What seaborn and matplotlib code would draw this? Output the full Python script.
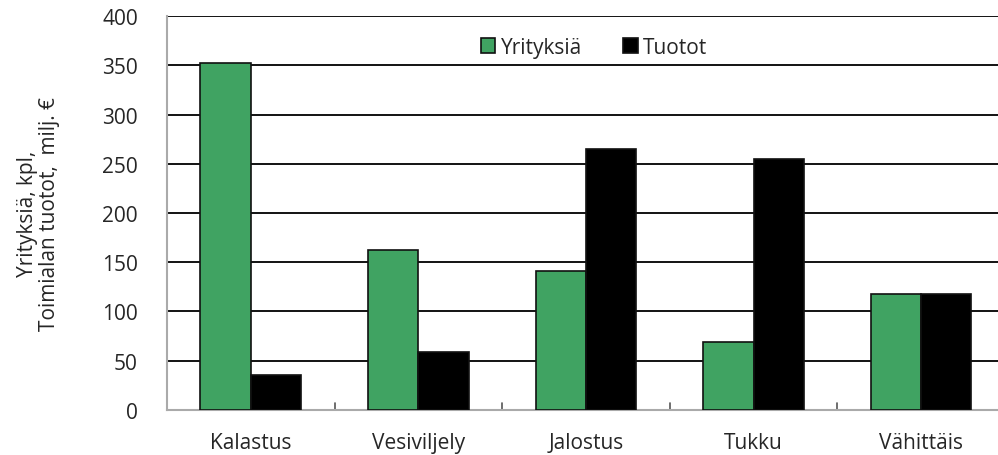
import pandas as pd
import matplotlib.pyplot as plt
import seaborn as sns

# Datos
toimialat = ['Kalastus', 'Vesiviljely', 'Jalostus', 'Tukku', 'Vähittäis']
yrityksia = [352, 162, 141, 69, 118]
tuotot = [36, 59, 265, 255, 118]

df = pd.DataFrame({
    'toimiala': toimialat * 2,
    'arvo': yrityksia + tuotot,
    'sarja': ['Yrityksiä'] * len(toimialat) + ['Tuotot'] * len(toimialat),
})

sns.set_style('white')
plt.rcParams['font.family'] = ['Open Sans', 'DejaVu Sans']

fig = plt.figure(figsize=(9.98, 4.56), dpi=100)
ax = fig.add_axes([0.1673, 0.0987, 0.8397, 0.864])

sns.barplot(data=df, x='toimiala', y='arvo', hue='sarja', ax=ax,
            palette={'Yrityksiä': '#40a362', 'Tuotot': '#000000'}, saturation=1,
            width=0.6, edgecolor='#111111', linewidth=1.2, zorder=3)

ax.set_ylim(0, 400)
ax.set_xlim(-0.5, len(toimialat) - 0.5)
ax.set_yticks(range(0, 401, 50))
ax.tick_params(axis='y', labelsize=15, length=3, color='#999999', pad=18)
ax.tick_params(axis='x', labelsize=15, length=0, pad=16)

# ruudukko mustana
for v in range(50, 401, 50):
    ax.axhline(v, color='black', linewidth=1.3, zorder=1)

# pienet tikit kategorioiden valissa
for i in range(len(toimialat)):
    ax.plot([i - 0.5, i - 0.5], [0, 7], color='#555555', linewidth=1.2, zorder=2, clip_on=False)

for side in ['top', 'right']:
    ax.spines[side].set_visible(False)
ax.spines['left'].set_color('#aaaaaa')
ax.spines['left'].set_linewidth(1.5)
ax.spines['bottom'].set_color('#aaaaaa')
ax.spines['bottom'].set_linewidth(1.5)

ax.set_xlabel('')
ax.set_ylabel('Yrityksiä, kpl,\nToimialan tuotot,  milj. €', fontsize=15, labelpad=30,
              linespacing=1.1)

leg = ax.legend(loc='upper left', bbox_to_anchor=(0.352, 0.995), ncol=2, frameon=False,
                fontsize=15, handlelength=0.7, handleheight=0.7, handletextpad=0.25,
                columnspacing=2.0)

plt.savefig('out.png', dpi=100)
